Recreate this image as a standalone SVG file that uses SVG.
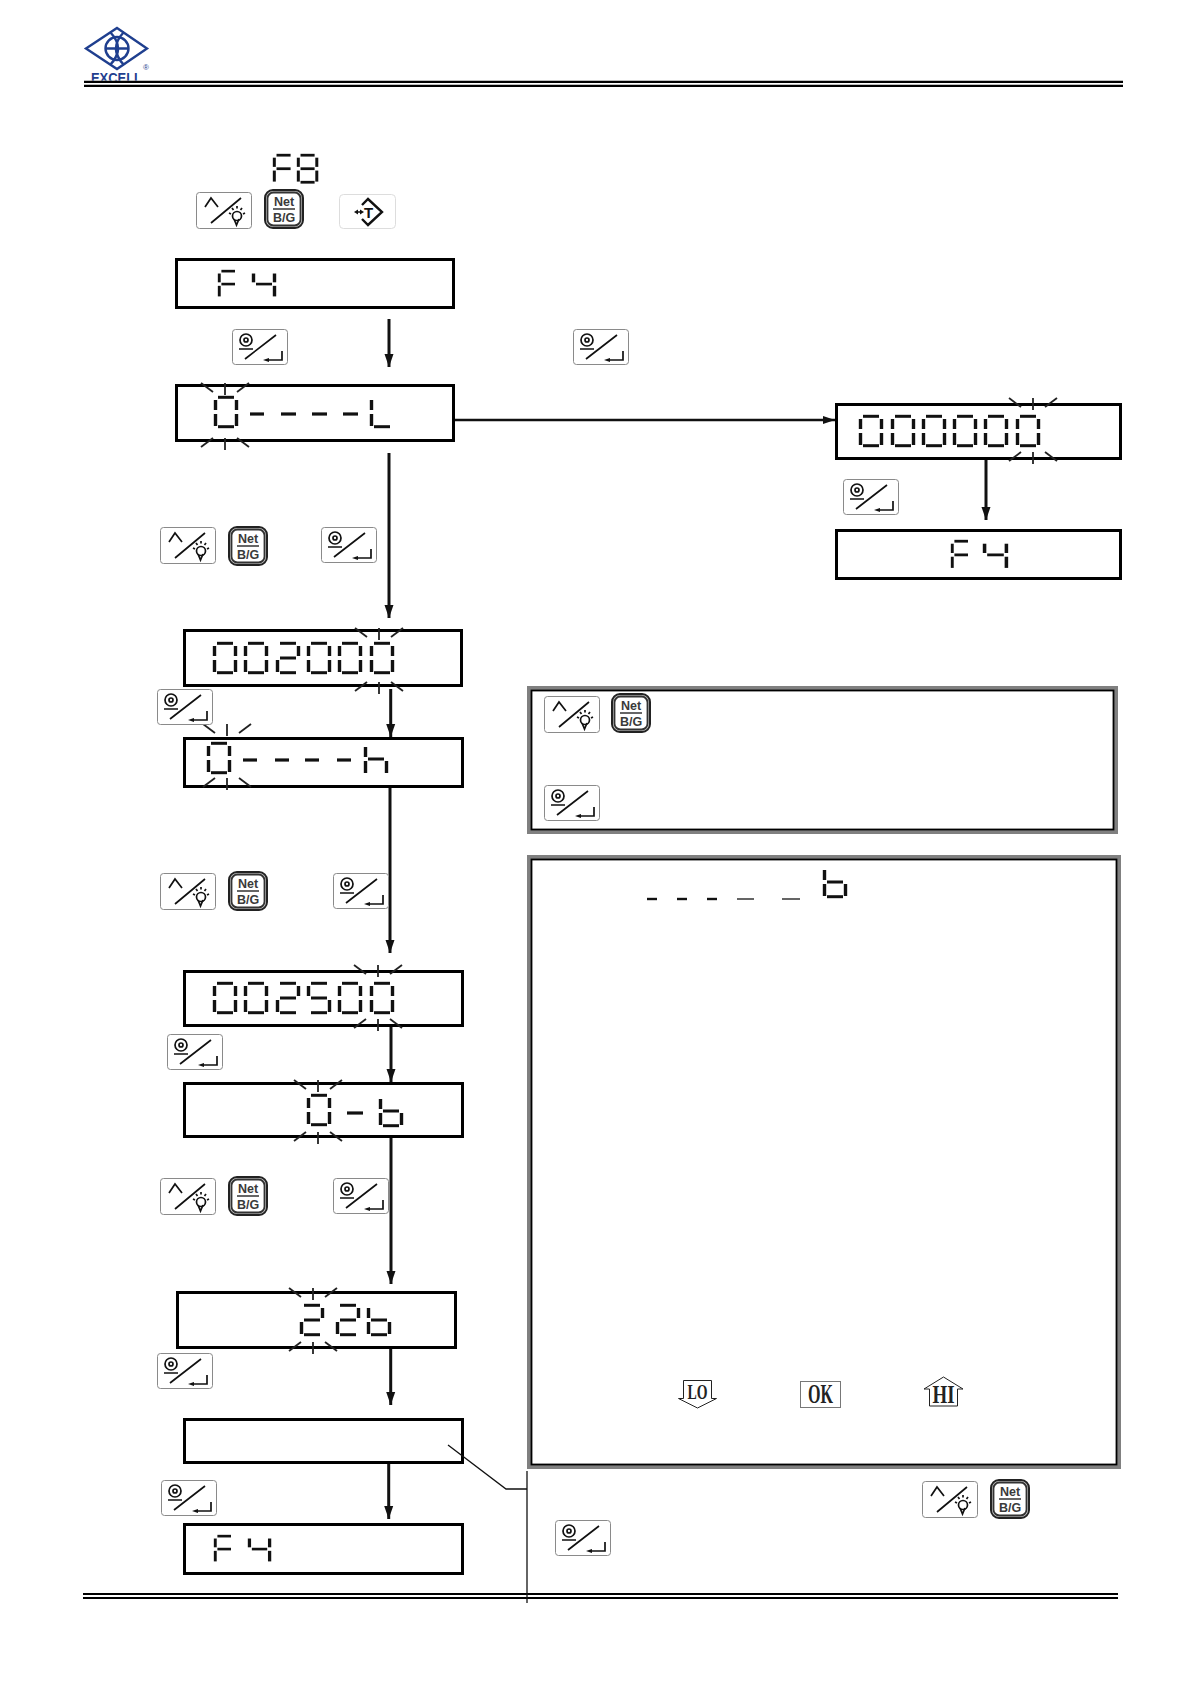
<svg xmlns="http://www.w3.org/2000/svg" width="1190" height="1684" viewBox="0 0 1190 1684">
<style>
text{font-family:"Liberation Sans",Arial,sans-serif}
.box{fill:#fff;stroke:#000;stroke-width:3}
.conn{fill:none;stroke:#111;stroke-width:3}
.thin{fill:none;stroke:#111;stroke-width:1.3}
.h{stroke:#111;stroke-width:3}
.v{stroke:#111;stroke-width:3.4}
.ray line{stroke:#222;stroke-width:1.8}
.dash{stroke:#111;stroke-width:3.2}
.rule{stroke:#000;stroke-width:2.2}
.kb{fill:#fff;stroke:#8a8a8a;stroke-width:1}
.ki{fill:none;stroke:#111;stroke-width:1.7}
.net{font-weight:700;font-size:12.5px;fill:#3a3a3a;text-anchor:middle}
.sf{font-family:"Liberation Serif",serif;font-weight:700;fill:#222;text-anchor:middle}
.logo{fill:none;stroke:#1f3f8f;stroke-width:2.4}
</style>
<defs>
<line id="sa" class="h" x1="4" y1="1.3" x2="20" y2="1.3"/>
<line id="sb" class="v" x1="22.5" y1="4" x2="22.5" y2="14"/>
<line id="sc" class="v" x1="22.5" y1="18" x2="22.5" y2="30"/>
<line id="sd" class="h" x1="4" y1="30.7" x2="20" y2="30.7"/>
<line id="se" class="v" x1="1.500" y1="18" x2="1.500" y2="30"/>
<line id="sf" class="v" x1="1.500" y1="4" x2="1.500" y2="14"/>
<line id="sg" class="h" x1="4" y1="16" x2="20" y2="16"/>
<g id="d0"><use href="#sa"/><use href="#sb"/><use href="#sc"/><use href="#sd"/><use href="#se"/><use href="#sf"/></g>
<g id="d2"><use href="#sa"/><use href="#sb"/><use href="#sg"/><use href="#se"/><use href="#sd"/></g>
<g id="d4"><use href="#sf"/><use href="#sg"/><use href="#sb"/><use href="#sc"/></g>
<g id="d5"><use href="#sa"/><use href="#sf"/><use href="#sg"/><use href="#sc"/><use href="#sd"/></g>
<g id="d8"><use href="#d0"/><use href="#sg"/></g>
<g id="dF"><use href="#sa"/><use href="#sf"/><use href="#sg"/><use href="#se"/></g>
<g id="dL"><use href="#sf"/><use href="#se"/><use href="#sd"/></g>
<g id="db"><use href="#sf"/><use href="#se"/><use href="#sg"/><use href="#sc"/><use href="#sd"/></g>
<g id="dh"><use href="#sf"/><use href="#se"/><use href="#sg"/><use href="#sc"/></g>
<g id="rt" class="ray"><line x1="0" y1="0" x2="0" y2="12"/><line x1="-24" y1="0" x2="-12" y2="9"/><line x1="24" y1="0" x2="12" y2="9"/></g>
<g id="rb" class="ray"><line x1="0" y1="0" x2="0" y2="12"/><line x1="-24" y1="9" x2="-12" y2="0"/><line x1="24" y1="9" x2="12" y2="0"/></g>
<marker id="ah" markerUnits="userSpaceOnUse" markerWidth="14" markerHeight="10" refX="13" refY="5" orient="auto"><polygon points="0,0.500 13,5 0,9.500" fill="#111"/></marker>
<marker id="ahs" markerUnits="userSpaceOnUse" markerWidth="12" markerHeight="10" refX="12" refY="5" orient="auto"><polygon points="0,1 12,5 0,9" fill="#111"/></marker>
<g id="kUp">
<rect class="kb" x=".5" y=".5" width="55" height="36" rx="3"/>
<path class="ki" d="M9 15L15 6 22 15M15 31L45 6"/>
<circle class="ki" cx="41" cy="24" r="4.500"/>
<path class="ki" d="M38 27L40.500 33 43 27M33 21l2 1M49 21l-2 1M36 16l1.500 2M46 16l-1.500 2M41 14v2.500"/>
</g>
<g id="kNet">
<rect x="1" y="1" width="38" height="38" rx="8" fill="#ccc" stroke="#222" stroke-width="2"/>
<rect x="3.500" y="3.500" width="33" height="33" rx="6" fill="#fff" stroke="#333" stroke-width="1.800"/>
<line x1="9" y1="20" x2="31" y2="20" stroke="#333" stroke-width="1.500"/>
</g>
<g id="kEnt">
<rect class="kb" x=".5" y=".5" width="55" height="35" rx="3"/>
<circle class="ki" cx="14" cy="11" r="6"/><circle class="ki" cx="14" cy="11" r="2"/>
<path class="ki" d="M7 20H21M13 30L44 6M50 22V31H36"/>
<polygon points="31,31 37,29 37,33" fill="#111"/>
</g>
</defs>
<rect width="1190" height="1684" fill="#fff"/>

<g id="header">
<g id="logo">
<polygon class="logo" points="117,28 147,48.500 117,69 86,48.500"/>
<circle class="logo" cx="117" cy="48.500" r="11.500"/>
<path class="logo" d="M105 48.500H129M110 32Q126 48.500 110 65M124 32Q108 48.500 124 65"/>
<text x="91" y="83" font-size="14" font-weight="700" fill="#1f3f8f" textLength="51" lengthAdjust="spacingAndGlyphs">EXCELL</text>
<text x="143" y="70" font-size="8" fill="#1f3f8f">®</text>
</g>
<rect x="84" y="80.600" width="60" height="8" fill="#fff"/>
<line class="rule" x1="84" y1="81.800" x2="1123" y2="81.800"/>
<line class="rule" x1="84" y1="85.800" x2="1123" y2="85.800"/>
</g>
<g id="footer">
<line class="rule" x1="83" y1="1594" x2="1118" y2="1594"/>
<line class="rule" x1="83" y1="1598" x2="1118" y2="1598"/>
</g>

<g id="connectors">
<line class="conn" x1="389" y1="319" x2="389" y2="367" marker-end="url(#ah)"/>
<line class="conn" x1="455" y1="420" x2="835" y2="420" marker-end="url(#ahs)" style="stroke-width:2.400"/>
<line class="conn" x1="389" y1="453" x2="389" y2="618" marker-end="url(#ah)"/>
<line class="conn" x1="390.700" y1="689" x2="390.700" y2="737" marker-end="url(#ah)"/>
<line class="conn" x1="390" y1="788" x2="390" y2="953" marker-end="url(#ah)"/>
<line class="conn" x1="391" y1="1027" x2="391" y2="1082" marker-end="url(#ah)"/>
<line class="conn" x1="391" y1="1138" x2="391" y2="1284" marker-end="url(#ah)"/>
<line class="conn" x1="390.700" y1="1349" x2="390.700" y2="1405" marker-end="url(#ah)"/>
<line class="conn" x1="388.700" y1="1464" x2="388.700" y2="1519" marker-end="url(#ah)"/>
<line class="conn" x1="986" y1="460" x2="986" y2="520" marker-end="url(#ah)"/>
</g>

<g id="top-f8">
<use href="#dF" transform="translate(273 154) scale(.88 .92)"/>
<use href="#d8" transform="translate(297 154) scale(.88 .92)"/>
<use href="#kUp" x="196" y="192"/>
<use href="#kNet" x="264" y="189"/>
<text class="net" x="284" y="206">Net</text><text class="net" x="284" y="222">B/G</text>
<g id="key-tare" transform="translate(339 194)">
<rect x=".5" y=".5" width="56" height="34" rx="4" fill="#fff" stroke="#ddd"/>
<path d="M23 11L29 5 43 18 29 31 23 25" fill="none" stroke="#111" stroke-width="2.400"/>
<text x="29.500" y="24" font-size="15" font-weight="700" text-anchor="middle" fill="#111">T</text>
<path d="M17 18h6" stroke="#111" stroke-width="1.500"/>
<polygon points="15,18 19,15.500 19,20.500" fill="#111"/><polygon points="25,18 21,15.500 21,20.500" fill="#111"/>
</g>
</g>

<g id="box-f4-a">
<rect class="box" x="176.500" y="259.500" width="277" height="48"/>
<use href="#dF" transform="translate(218 270) scale(.85 .88)"/>
<use href="#d4" transform="translate(252 270) scale(1 .88)"/>
</g>
<g id="box-0L">
<rect class="box" x="176.500" y="385.500" width="277" height="55"/>
<use href="#d0" x="214" y="396"/>
<line class="dash" x1="250" y1="414" x2="264" y2="414"/><line class="dash" x1="281" y1="414" x2="296" y2="414"/><line class="dash" x1="312" y1="414" x2="327" y2="414"/><line class="dash" x1="343" y1="414" x2="358" y2="414"/>
<use href="#dL" transform="translate(370 396)"/>
<use href="#rt" x="225" y="383"/><use href="#rb" x="225" y="438"/>
</g>
<g id="box-000000">
<rect class="box" x="836.500" y="404.500" width="284" height="54"/>
<use href="#d0" x="859" y="415"/><use href="#d0" x="891" y="415"/><use href="#d0" x="922" y="415"/><use href="#d0" x="953" y="415"/><use href="#d0" x="984" y="415"/><use href="#d0" x="1016" y="415"/>
<use href="#rt" x="1033" y="398"/><use href="#rb" x="1033" y="452"/>
</g>
<g id="box-f4-b">
<rect class="box" x="836.500" y="530.500" width="284" height="48"/>
<use href="#dF" transform="translate(951 540) scale(.85 .93)"/>
<use href="#d4" transform="translate(983 540) scale(1.040 .93)"/>
</g>
<g id="box-002000">
<rect class="box" x="184.500" y="630.500" width="277" height="55"/>
<use href="#d0" x="213" y="642"/><use href="#d0" x="244" y="642"/><use href="#d2" x="276" y="642"/><use href="#d0" x="307" y="642"/><use href="#d0" x="338" y="642"/><use href="#d0" x="370" y="642"/>
<use href="#rt" x="379" y="628"/><use href="#rb" x="379" y="682"/>
</g>
<g id="box-0h">
<rect class="box" x="184.500" y="738.500" width="278" height="48"/>
<use href="#d0" x="207" y="742"/>
<line class="dash" x1="243" y1="760" x2="257" y2="760"/><line class="dash" x1="275" y1="760" x2="289" y2="760"/><line class="dash" x1="305" y1="760" x2="319" y2="760"/><line class="dash" x1="337" y1="760" x2="351" y2="760"/>
<use href="#dh" x="364" y="743"/>
<use href="#rt" x="227" y="724"/><use href="#rb" x="227" y="778"/>
</g>
<g id="box-002500">
<rect class="box" x="184.500" y="971.500" width="278" height="54"/>
<use href="#d0" x="213" y="982"/><use href="#d0" x="244" y="982"/><use href="#d2" x="276" y="982"/><use href="#d5" x="307" y="982"/><use href="#d0" x="338" y="982"/><use href="#d0" x="370" y="982"/>
<use href="#rt" x="378" y="965"/><use href="#rb" x="378" y="1019"/>
</g>
<g id="box-0b">
<rect class="box" x="184.500" y="1083.500" width="278" height="53"/>
<use href="#d0" x="307" y="1094"/>
<line class="dash" x1="347" y1="1113" x2="363" y2="1113"/>
<use href="#db" x="379" y="1095"/>
<use href="#rt" x="318" y="1080"/><use href="#rb" x="318" y="1132"/>
</g>
<g id="box-22b">
<rect class="box" x="177.500" y="1292.500" width="278" height="55"/>
<use href="#d2" x="300" y="1304"/><use href="#d2" x="336" y="1304"/><use href="#db" x="367" y="1304"/>
<use href="#rt" x="313" y="1288"/><use href="#rb" x="313" y="1342"/>
</g>
<g id="box-empty">
<rect class="box" x="184.500" y="1419.500" width="278" height="43"/>
</g>
<g id="box-f4-c">
<rect class="box" x="184.500" y="1524.500" width="278" height="49"/>
<use href="#dF" transform="translate(214 1535) scale(.85 .88)"/>
<use href="#d4" transform="translate(248 1535) scale(.96 .88)"/>
</g>

<g id="keys">
<use href="#kEnt" x="232" y="329"/>
<use href="#kEnt" x="573" y="329"/>
<use href="#kUp" x="160" y="527"/><use href="#kNet" x="228" y="526"/>
<text class="net" x="248" y="543">Net</text><text class="net" x="248" y="559">B/G</text>
<use href="#kEnt" x="321" y="527"/>
<use href="#kEnt" x="843" y="479"/>
<use href="#kEnt" x="157" y="689"/>
<use href="#kUp" x="160" y="873"/><use href="#kNet" x="228" y="871"/>
<text class="net" x="248" y="888">Net</text><text class="net" x="248" y="904">B/G</text>
<use href="#kEnt" x="333" y="873"/>
<use href="#kEnt" x="167" y="1034"/>
<use href="#kUp" x="160" y="1178"/><use href="#kNet" x="228" y="1176"/>
<text class="net" x="248" y="1193">Net</text><text class="net" x="248" y="1209">B/G</text>
<use href="#kEnt" x="333" y="1178"/>
<use href="#kEnt" x="157" y="1353"/>
<use href="#kEnt" x="161" y="1480"/>
</g>

<g id="panel-1">
<rect x="529.500" y="688.500" width="586" height="143" fill="#fff" stroke="#808080" stroke-width="5"/>
<rect x="531.500" y="690.500" width="582" height="139" fill="none" stroke="#000" stroke-width="1.800"/>
<use href="#kUp" x="544" y="696"/><use href="#kNet" x="611" y="693"/>
<text class="net" x="631" y="710">Net</text><text class="net" x="631" y="726">B/G</text>
<use href="#kEnt" x="544" y="785"/>
</g>

<g id="panel-2">
<rect x="529.500" y="857.500" width="589" height="609" fill="#fff" stroke="#808080" stroke-width="5"/>
<rect x="531.500" y="859.500" width="585" height="605" fill="none" stroke="#000" stroke-width="1.800"/>
<use href="#db" x="823" y="866"/>
<line class="dash" x1="647" y1="899" x2="657" y2="899" style="stroke-width:2.400"/><line class="dash" x1="677" y1="899" x2="687" y2="899" style="stroke-width:2.400"/><line class="dash" x1="707" y1="899" x2="717" y2="899" style="stroke-width:2.400"/>
<line x1="737" y1="899" x2="754" y2="899" stroke="#111" stroke-width="1.300"/><line x1="782" y1="899" x2="800" y2="899" stroke="#111" stroke-width="1.300"/>
<g id="ind-lo"><path d="M683.500 1380.500H711.500V1398.500H716.500L697.500 1408 678.500 1398.500H683.500Z" fill="#fff" stroke="#222" stroke-width="1"/>
<text class="sf" x="697.500" y="1399" font-size="21" textLength="20" lengthAdjust="spacingAndGlyphs">LO</text></g>
<g id="ind-ok"><rect x="800.500" y="1381.500" width="40" height="26" fill="#fff" stroke="#777"/>
<text class="sf" x="820.500" y="1403" font-size="27" textLength="25" lengthAdjust="spacingAndGlyphs">OK</text></g>
<g id="ind-hi"><path d="M929.500 1406H957.500V1389H963L943.500 1377 924 1389H929.500Z" fill="#fff" stroke="#222" stroke-width="1"/>
<text class="sf" x="943.500" y="1403" font-size="25" textLength="22" lengthAdjust="spacingAndGlyphs">HI</text></g>
</g>

<g id="leader">
<polyline class="thin" points="448,1445 506,1489 527,1489"/>
<line class="thin" x1="527" y1="1471" x2="527" y2="1603"/>
</g>
<g id="note-keys">
<use href="#kUp" x="922" y="1481"/><use href="#kNet" x="990" y="1479"/>
<text class="net" x="1010" y="1496">Net</text><text class="net" x="1010" y="1512">B/G</text>
<use href="#kEnt" x="555" y="1520"/>
</g>
</svg>
